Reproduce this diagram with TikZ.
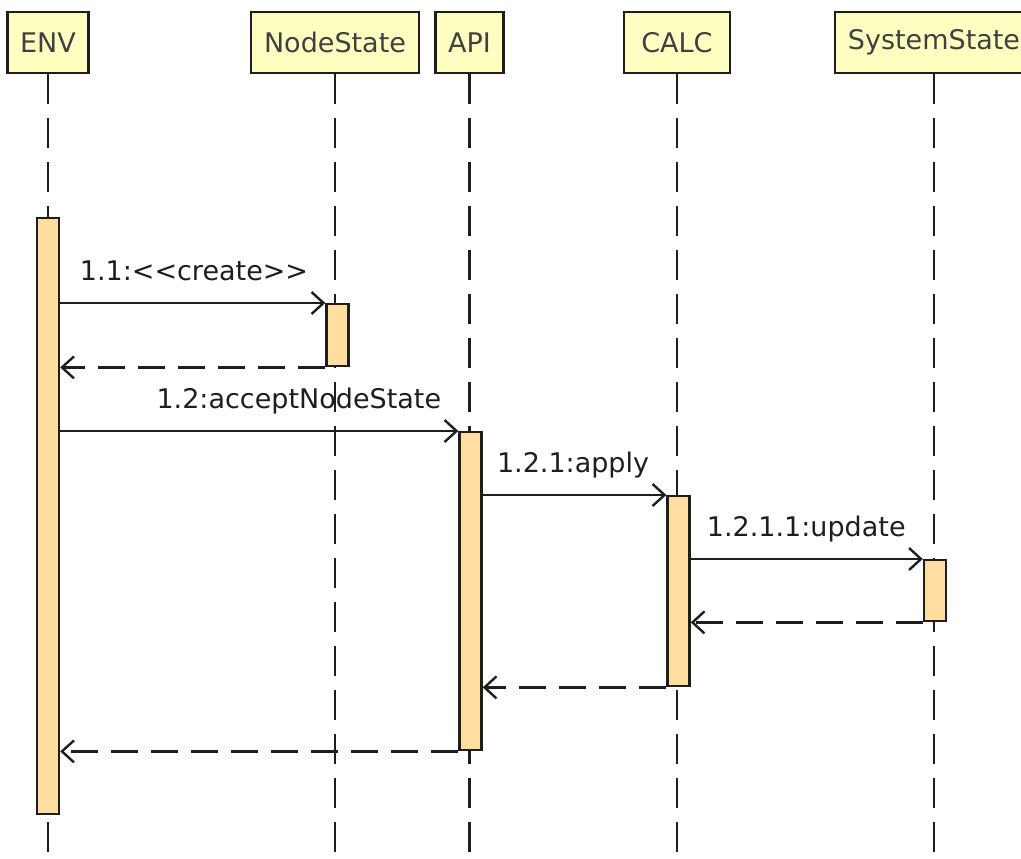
\documentclass[tikz,border=0pt]{standalone}
\usepackage{fontspec}
\setmainfont{DejaVu Sans}
\usetikzlibrary{arrows.meta}
\definecolor{headfill}{RGB}{255,255,194}
\definecolor{actfill}{RGB}{255,222,160}
\definecolor{ink}{RGB}{30,30,30}
\tikzset{
  head/.style={draw=ink, line width=2.8pt, fill=headfill, text=ink!85,
    minimum height=61pt, inner xsep=13pt, font=\fontsize{27pt}{32pt}\selectfont},
  act/.style={draw=ink, line width=2.4pt, fill=actfill, minimum width=22pt,
    anchor=north, inner sep=0pt},
  life/.style={draw=ink, line width=2.4pt, dash pattern=on 30pt off 14pt},
  msg/.style={draw=ink, line width=2.4pt,
    -{Straight Barb[length=12pt,width=22pt]}},
  ret/.style={msg, dash pattern=on 27pt off 13pt},
  lbl/.style={anchor=base east, inner sep=0pt, xshift=-16pt, yshift=23pt,
    text=ink, font=\fontsize{27pt}{32pt}\selectfont}
}
\begin{document}
\begin{tikzpicture}[x=1pt,y=-1pt]
      \useasboundingbox (0,0) rectangle (1021,859);
      % heads
      \node[head] (env) at (48,42.5) {ENV};
      \node[head] (ns) at (335,42.5) {NodeState};
      \node[head] (api) at (469.5,42.5) {API};
      \node[head, minimum width=106pt] (calc) at (677,42.5) {CALC};
      \node[head] (ss) at (934,42.5) {SystemState};
      % lifelines
      \foreach \n in {env,ns,api,calc,ss} {
        \coordinate (\n end) at (\n.south |- 0,875);
        \draw[life] (\n.south) -- (\n end);
      }
      % activations
      \node[act, minimum height=596pt] (envact) at (48,217) {};
      \node[act, minimum height=62pt] (nsact) at (337.5,303) {};
      \node[act, minimum height=318pt] (apiact) at (470.5,431) {};
      \node[act, minimum height=190pt] (calcact) at (678.5,495) {};
      \node[act, minimum height=61pt] (ssact) at (935,559) {};
      % messages
      \draw[msg] (envact.east |- nsact.north) -- (nsact.north west)
        node[lbl] {1.1:<{}<create>{}>};
      \draw[ret] (nsact.south west) -- (nsact.south west -| envact.east);
      \draw[msg] (envact.east |- apiact.north) -- (apiact.north west)
        node[lbl] {1.2:acceptNodeState};
      \draw[msg] (apiact.east |- calcact.north) -- (calcact.north west)
        node[lbl] {1.2.1:apply};
      \draw[msg] (calcact.east |- ssact.north) -- (ssact.north west)
        node[lbl] {1.2.1.1:update};
      \draw[ret] (ssact.south west) -- (ssact.south west -| calcact.east);
      \draw[ret] (calcact.south west) -- (calcact.south west -| apiact.east);
      \draw[ret] (apiact.south west) -- (apiact.south west -| envact.east);
    \end{tikzpicture}
\end{document}
